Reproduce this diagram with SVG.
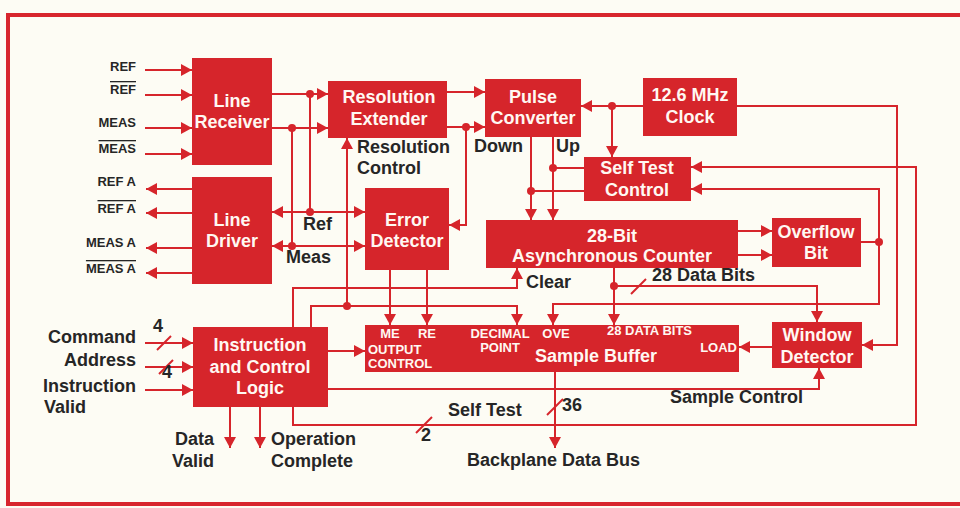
<svg xmlns="http://www.w3.org/2000/svg" width="960" height="508" viewBox="0 0 960 508">
<style>
.bg{fill:#fdfcf4}
.frame{fill:none;stroke:#d8262d;stroke-width:4}
.box{fill:#d6252b}
.w{fill:none;stroke:#d6252b;stroke-width:2}
.dot{fill:#d6252b}
.t{font-family:"Liberation Sans",Arial,Helvetica,sans-serif;font-weight:bold}
.bl{fill:#fff8f2;font-size:18px;text-anchor:middle}
.ex{fill:#262626;font-size:18px}
.sm{fill:#262626;font-size:13px}
.ib{fill:#fff8f2;font-size:13px}
.ov{text-decoration:overline}
.end{text-anchor:end}
.mid{text-anchor:middle}
</style>
<defs>
<marker id="ah" markerUnits="userSpaceOnUse" markerWidth="11" markerHeight="12" refX="11" refY="6" orient="auto-start-reverse">
<path d="M0,0 L11,6 L0,12 z" fill="#d6252b"/>
</marker>
</defs>
<rect class="bg" x="0" y="0" width="960" height="508"/>
<rect class="frame" x="8" y="15" width="960" height="489"/>

<g id="connectors">
<!-- line receiver inputs -->
<path class="w" d="M145,70 H192" marker-end="url(#ah)"/>
<path class="w" d="M145,95 H192" marker-end="url(#ah)"/>
<path class="w" d="M145,128 H192" marker-end="url(#ah)"/>
<path class="w" d="M145,154 H192" marker-end="url(#ah)"/>
<!-- line driver outputs -->
<path class="w" d="M192,189 H146" marker-end="url(#ah)"/>
<path class="w" d="M192,213 H146" marker-end="url(#ah)"/>
<path class="w" d="M192,248 H146" marker-end="url(#ah)"/>
<path class="w" d="M192,273 H146" marker-end="url(#ah)"/>
<!-- LR to RE -->
<path class="w" d="M272,94 H328" marker-end="url(#ah)"/>
<path class="w" d="M272,128 H328" marker-end="url(#ah)"/>
<path class="w" d="M310,94 V212"/>
<path class="w" d="M292,128 V246"/>
<circle class="dot" cx="310" cy="94" r="4"/>
<circle class="dot" cx="292" cy="128" r="4"/>
<circle class="dot" cx="310" cy="212" r="4"/>
<circle class="dot" cx="292" cy="246" r="4"/>
<!-- Ref / Meas -->
<path class="w" d="M272,212 H365" marker-start="url(#ah)" marker-end="url(#ah)"/>
<path class="w" d="M272,246 H365" marker-start="url(#ah)" marker-end="url(#ah)"/>
<!-- Resolution control -->
<path class="w" d="M347,306 V138" marker-end="url(#ah)"/>
<!-- RE to PC -->
<path class="w" d="M447,92 H485" marker-end="url(#ah)"/>
<path class="w" d="M447,127 H485" marker-end="url(#ah)"/>
<circle class="dot" cx="466" cy="127" r="4"/>
<path class="w" d="M466,127 V225 H449" marker-end="url(#ah)"/>
<!-- PC Down / Up -->
<path class="w" d="M531,137 V220" marker-end="url(#ah)"/>
<path class="w" d="M553,137 V220" marker-end="url(#ah)"/>
<!-- clock -->
<path class="w" d="M643,106 H581" marker-end="url(#ah)"/>
<circle class="dot" cx="612" cy="106" r="4"/>
<path class="w" d="M612,106 V157" marker-end="url(#ah)"/>
<path class="w" d="M737,106 H897 V345 H862" marker-end="url(#ah)"/>
<!-- self test control to counter lines -->
<path class="w" d="M584,168 H553"/>
<circle class="dot" cx="553" cy="168" r="4"/>
<path class="w" d="M584,191 H531"/>
<circle class="dot" cx="531" cy="191" r="4"/>
<!-- self test line -->
<path class="w" d="M293,407 V425 H916 V167 H691" marker-end="url(#ah)"/>
<path class="w" d="M416,433 L432,417"/>
<!-- overflow -->
<path class="w" d="M738,231 H772" marker-end="url(#ah)"/>
<path class="w" d="M738,255 H772" marker-end="url(#ah)"/>
<path class="w" d="M861,242 H879"/>
<circle class="dot" cx="879" cy="242" r="4"/>
<path class="w" d="M879,242 V189 H691" marker-end="url(#ah)"/>
<path class="w" d="M879,242 V304 H553 V325" marker-end="url(#ah)"/>
<!-- 28 data bits -->
<path class="w" d="M614,268 V325" marker-end="url(#ah)"/>
<circle class="dot" cx="614" cy="286" r="4"/>
<path class="w" d="M614,286 H817 V322" marker-end="url(#ah)"/>
<path class="w" d="M631,294 L646,279"/>
<!-- clear -->
<path class="w" d="M293,327 V288 H517 V268" marker-end="url(#ah)"/>
<!-- decimal point -->
<path class="w" d="M311,327 V306 H517 V325" marker-end="url(#ah)"/>
<circle class="dot" cx="347" cy="306" r="4"/>
<!-- error detector ME RE -->
<path class="w" d="M390,270 V325" marker-end="url(#ah)"/>
<path class="w" d="M427,270 V325" marker-end="url(#ah)"/>
<!-- window load -->
<path class="w" d="M772,347 H739" marker-end="url(#ah)"/>
<!-- sample control -->
<path class="w" d="M328,389 H819 V368" marker-end="url(#ah)"/>
<!-- ICL to buffer -->
<path class="w" d="M328,351 H365" marker-end="url(#ah)"/>
<!-- ICL inputs -->
<path class="w" d="M145,343 H193" marker-end="url(#ah)"/>
<path class="w" d="M145,367 H193" marker-end="url(#ah)"/>
<path class="w" d="M145,390 H193" marker-end="url(#ah)"/>
<path class="w" d="M157,350 L171,336"/>
<path class="w" d="M159,374 L173,360"/>
<!-- ICL outputs -->
<path class="w" d="M230,407 V448" marker-end="url(#ah)"/>
<path class="w" d="M260,407 V448" marker-end="url(#ah)"/>
<!-- backplane bus -->
<path class="w" d="M555,372 V448" marker-end="url(#ah)"/>
<path class="w" d="M547,415 L563,399"/>
</g>

<g id="line-receiver">
<rect class="box" x="192" y="58" width="80" height="107"/>
<text class="t bl" x="232" y="107">Line</text>
<text class="t bl" x="232" y="128">Receiver</text>
</g>
<g id="line-driver">
<rect class="box" x="192" y="177" width="80" height="107"/>
<text class="t bl" x="232" y="226">Line</text>
<text class="t bl" x="232" y="247">Driver</text>
</g>
<g id="resolution-extender">
<rect class="box" x="328" y="81" width="119" height="57"/>
<text class="t bl" x="389" y="103">Resolution</text>
<text class="t bl" x="389" y="125">Extender</text>
</g>
<g id="pulse-converter">
<rect class="box" x="485" y="79" width="96" height="58"/>
<text class="t bl" x="533" y="103">Pulse</text>
<text class="t bl" x="533" y="124">Converter</text>
</g>
<g id="clock">
<rect class="box" x="643" y="78" width="94" height="58"/>
<text class="t bl" x="690" y="101">12.6 MHz</text>
<text class="t bl" x="690" y="123">Clock</text>
</g>
<g id="self-test-control">
<rect class="box" x="584" y="157" width="107" height="44"/>
<text class="t bl" x="637" y="174">Self Test</text>
<text class="t bl" x="637" y="196">Control</text>
</g>
<g id="counter">
<rect class="box" x="486" y="220" width="252" height="48"/>
<text class="t bl" x="612" y="242">28-Bit</text>
<text class="t bl" x="612" y="262">Asynchronous Counter</text>
</g>
<g id="overflow-bit">
<rect class="box" x="772" y="218" width="89" height="49"/>
<text class="t bl" x="816" y="238">Overflow</text>
<text class="t bl" x="816" y="259">Bit</text>
</g>
<g id="error-detector">
<rect class="box" x="365" y="188" width="84" height="82"/>
<text class="t bl" x="407" y="226">Error</text>
<text class="t bl" x="407" y="247">Detector</text>
</g>
<g id="instruction-control-logic">
<rect class="box" x="193" y="327" width="135" height="80"/>
<text class="t bl" x="260" y="351">Instruction</text>
<text class="t bl" x="260" y="373">and Control</text>
<text class="t bl" x="260" y="394">Logic</text>
</g>
<g id="sample-buffer">
<rect class="box" x="365" y="325" width="374" height="47"/>
<text class="t ib mid" x="390" y="338">ME</text>
<text class="t ib mid" x="427" y="338">RE</text>
<text class="t ib" x="368" y="354">OUTPUT</text>
<text class="t ib" x="368" y="368">CONTROL</text>
<text class="t ib mid" x="500" y="338">DECIMAL</text>
<text class="t ib mid" x="500" y="352">POINT</text>
<text class="t ib mid" x="556" y="338">OVE</text>
<text class="t ib" x="607" y="335">28 DATA BITS</text>
<text class="t ib end" x="737" y="352">LOAD</text>
<text class="t bl" x="596" y="362">Sample Buffer</text>
</g>
<g id="window-detector">
<rect class="box" x="772" y="322" width="90" height="46"/>
<text class="t bl" x="817" y="341">Window</text>
<text class="t bl" x="817" y="363">Detector</text>
</g>

<g id="labels">
<text class="t sm end" x="136" y="71">REF</text>
<text class="t sm end ov" x="136" y="94">REF</text>
<text class="t sm end" x="136" y="127">MEAS</text>
<text class="t sm end ov" x="136" y="153">MEAS</text>
<text class="t sm end" x="136" y="186">REF A</text>
<text class="t sm end ov" x="136" y="213">REF A</text>
<text class="t sm end" x="136" y="247">MEAS A</text>
<text class="t sm end ov" x="136" y="273">MEAS A</text>
<text class="t ex" x="303" y="230">Ref</text>
<text class="t ex" x="286" y="263">Meas</text>
<text class="t ex" x="357" y="153">Resolution</text>
<text class="t ex" x="357" y="174">Control</text>
<text class="t ex" x="474" y="152">Down</text>
<text class="t ex" x="556" y="152">Up</text>
<text class="t ex" x="526" y="288">Clear</text>
<text class="t ex" x="652" y="281">28 Data Bits</text>
<text class="t ex end" x="136" y="343">Command</text>
<text class="t ex end" x="136" y="366">Address</text>
<text class="t ex end" x="136" y="392">Instruction</text>
<text class="t ex" x="44" y="413">Valid</text>
<text class="t ex mid" x="158" y="332">4</text>
<text class="t ex mid" x="167" y="378">4</text>
<text class="t ex end" x="214" y="445">Data</text>
<text class="t ex end" x="214" y="467">Valid</text>
<text class="t ex" x="271" y="445">Operation</text>
<text class="t ex" x="271" y="467">Complete</text>
<text class="t ex" x="448" y="416">Self Test</text>
<text class="t ex" x="562" y="411">36</text>
<text class="t ex" x="421" y="441">2</text>
<text class="t ex" x="467" y="466">Backplane Data Bus</text>
<text class="t ex" x="670" y="403">Sample Control</text>
</g>
</svg>
